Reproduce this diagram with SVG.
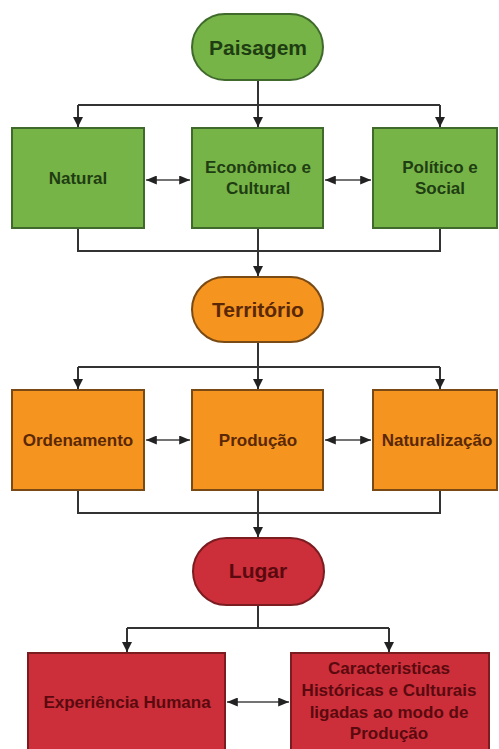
<svg xmlns="http://www.w3.org/2000/svg" width="499" height="749" viewBox="0 0 499 749">
<defs>
<marker id="ah" viewBox="0 0 10 10" refX="10" refY="5" markerWidth="5" markerHeight="5" orient="auto-start-reverse">
<path d="M0,0 L10,5 L0,10 z" fill="#222"/>
</marker>
<marker id="ah2" viewBox="0 0 12 10" refX="12" refY="5" markerWidth="12" markerHeight="9" markerUnits="userSpaceOnUse" orient="auto-start-reverse">
<path d="M0,0 L12,5 L0,10 z" fill="#222"/>
</marker>
<style>
.c{fill:none;stroke:#333;stroke-width:2}
.d{fill:none;stroke:#444;stroke-width:1.5;marker-start:url(#ah2);marker-end:url(#ah2)}
.a{marker-end:url(#ah)}
.g{fill:#76b447;stroke:#3f6a2c;stroke-width:2}
.o{fill:#f5941f;stroke:#7a4a14;stroke-width:2}
.r{fill:#cc2e3a;stroke:#7a1c20;stroke-width:2}
text{font-family:"Liberation Sans",Arial,sans-serif;font-weight:bold;text-anchor:middle;dominant-baseline:central;font-size:17px}
.tg{fill:#1f3d12}
.to{fill:#5a2806}
.tr{fill:#5a0a0e}
.big{font-size:21px}
</style>
</defs>
<rect width="499" height="749" fill="#fff"/>
<g id="connectors">
<path class="c" d="M258,80 V105 M78,105 H440"/>
<path class="c a" d="M78,105 V127"/>
<path class="c a" d="M258,105 V127"/>
<path class="c a" d="M440,105 V127"/>
<path class="d" d="M146,180 H190"/>
<path class="d" d="M325,180 H371"/>
<path class="c" d="M78,228 V251 H440 V228 M258,228 V251"/>
<path class="c a" d="M258,251 V276"/>
<path class="c" d="M258,342 V367 M78,367 H440"/>
<path class="c a" d="M78,367 V389"/>
<path class="c a" d="M258,367 V389"/>
<path class="c a" d="M440,367 V389"/>
<path class="d" d="M146,440 H190"/>
<path class="d" d="M325,440 H371"/>
<path class="c" d="M78,490 V513 H440 V490 M258,490 V513"/>
<path class="c a" d="M258,513 V537"/>
<path class="c" d="M258,605 V628 M127,628 H389"/>
<path class="c a" d="M127,628 V652"/>
<path class="c a" d="M389,628 V652"/>
<path class="d" d="M227,702 H289"/>
</g>
<g id="paisagem"><rect class="g" x="192" y="14" width="131" height="66" rx="33"/><text class="tg big" x="258" y="47">Paisagem</text></g>
<g id="natural"><rect class="g" x="12" y="128" width="132" height="100"/><text class="tg" x="78" y="178">Natural</text></g>
<g id="economico"><rect class="g" x="192" y="128" width="131" height="100"/><text class="tg" x="258" y="167">Econômico e</text><text class="tg" x="258" y="188">Cultural</text></g>
<g id="politico"><rect class="g" x="373" y="128" width="124" height="100"/><text class="tg" x="440" y="167">Político e</text><text class="tg" x="440" y="188">Social</text></g>
<g id="territorio"><rect class="o" x="192" y="277" width="131" height="65" rx="32.5"/><text class="to big" x="258" y="309">Território</text></g>
<g id="ordenamento"><rect class="o" x="12" y="390" width="132" height="100"/><text class="to" x="78" y="440">Ordenamento</text></g>
<g id="producao"><rect class="o" x="192" y="390" width="131" height="100"/><text class="to" x="258" y="440">Produção</text></g>
<g id="naturalizacao"><rect class="o" x="373" y="390" width="124" height="100"/><text class="to" x="437" y="440">Naturalização</text></g>
<g id="lugar"><rect class="r" x="193" y="538" width="131" height="67" rx="33.5"/><text class="tr big" x="258" y="570">Lugar</text></g>
<g id="experiencia"><rect class="r" x="28" y="653" width="197" height="100"/><text class="tr" x="127" y="702">Experiência Humana</text></g>
<g id="caracteristicas"><rect class="r" x="291" y="653" width="198" height="100"/><text class="tr" x="389" y="668">Caracteristicas</text><text class="tr" x="389" y="690">Históricas e Culturais</text><text class="tr" x="389" y="712">ligadas ao modo de</text><text class="tr" x="389" y="733">Produção</text></g>
</svg>
